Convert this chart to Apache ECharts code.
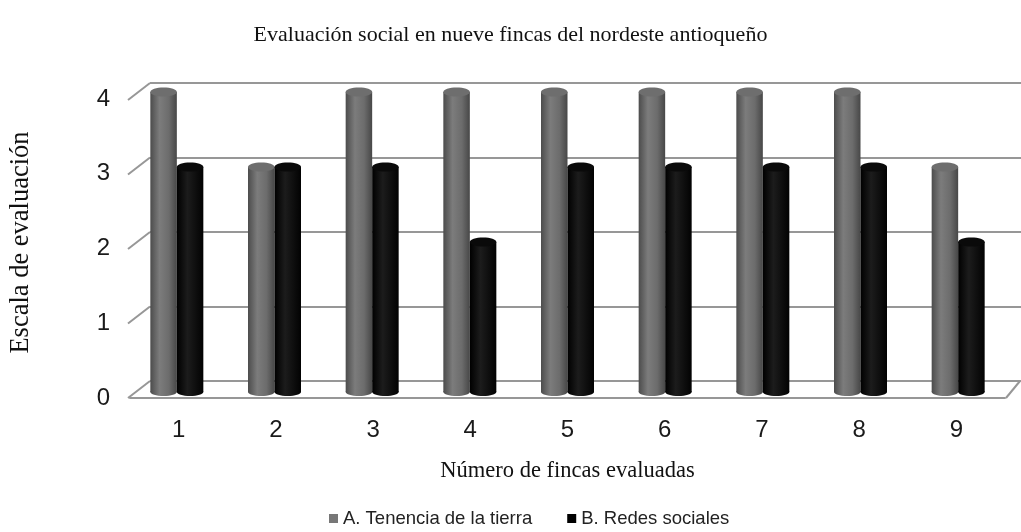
<!DOCTYPE html>
<html>
<head>
<meta charset="utf-8">
<script src="https://cdn.jsdelivr.net/npm/echarts@6/dist/echarts.min.js"></script>
<style>html,body{margin:0;padding:0;background:#fff;}#c{width:1021px;height:532px;}</style>
</head>
<body>
<div id="c"></div>
<script>
var categories = ['1','2','3','4','5','6','7','8','9'];
var tenencia = [4,3,4,4,4,4,4,4,3];
var redes = [3,3,3,2,3,3,3,3,2];
var yTicks = [0,1,2,3,4];
var seriesNames = ['A. Tenencia de la tierra','B. Redes sociales'];

var serif = '"Liberation Serif","DejaVu Serif",serif';
var sans = '"Liberation Sans",Arial,sans-serif';
var gridCol = '#979797';
var BW = 26.5;

var chart = echarts.init(document.getElementById('c'), null, {renderer:'canvas'});

function grayGrad(){
  return new echarts.graphic.LinearGradient(0,0,1,0,[
    {offset:0,color:'#4c4c4c'},{offset:0.35,color:'#7c7c7c'},{offset:0.7,color:'#6c6c6c'},{offset:1,color:'#474747'}]);
}
function blackGrad(){
  return new echarts.graphic.LinearGradient(0,0,1,0,[
    {offset:0,color:'#000'},{offset:0.4,color:'#1c1c1c'},{offset:1,color:'#020202'}]);
}

function capSeries(name, values, side, topColor, grad){
  return {name:name,type:'custom',xAxisIndex:2,yAxisIndex:2,z:4,silent:true,
    data:values.map(function(v,i){return [i,v];}),
    renderItem:function(params,api){
      var top = api.coord([api.value(0),api.value(1)]);
      var base = api.coord([api.value(0),0]);
      var cx = top[0] + side*BW/2;
      return {type:'group',children:[
        {type:'ellipse',shape:{cx:cx,cy:base[1],rx:BW/2,ry:4},style:{fill:grad}},
        {type:'ellipse',shape:{cx:cx,cy:top[1],rx:BW/2,ry:4.5},style:{fill:topColor}}
      ]};
    }};
}

var option = {
  animation:false,
  backgroundColor:'#fff',
  title:{text:'Evaluación social en nueve fincas del nordeste antioqueño',left:'center',top:19,
    textStyle:{fontFamily:serif,fontSize:22,fontWeight:'normal',color:'#111'}},
  legend:{bottom:-1,left:324,itemWidth:9,itemHeight:9,itemGap:35,
    textStyle:{fontFamily:sans,fontSize:18.5,color:'#222'},
    data:[{name:seriesNames[0],icon:'rect',itemStyle:{color:'#777'}},
          {name:seriesNames[1],icon:'rect',itemStyle:{color:'#000'}}]},
  grid:[
    {left:150,right:0,top:83,bottom:151},   // back wall
    {left:126,right:16,top:99,bottom:134},  // front axes
    {left:128,right:14,top:92,bottom:140}   // bars
  ],
  xAxis:[
    {gridIndex:0,type:'value',min:0,max:1,show:false},
    {gridIndex:1,type:'category',data:categories,
      axisLine:{show:true,lineStyle:{color:gridCol,width:2}},axisTick:{show:false},
      axisLabel:{fontFamily:sans,fontSize:24,color:'#1a1a1a',margin:20},
      name:'Número de fincas evaluadas',nameLocation:'middle',nameGap:62,
      nameTextStyle:{fontFamily:serif,fontSize:22.5,color:'#111'}},
    {gridIndex:2,type:'category',data:categories,show:false}
  ],
  yAxis:[
    {gridIndex:0,type:'value',min:0,max:4,interval:1,
      axisLine:{show:false},axisTick:{show:false},axisLabel:{show:false},
      splitLine:{show:true,lineStyle:{color:gridCol,width:2}}},
    {gridIndex:1,type:'value',min:0,max:4,interval:1,
      axisLine:{show:false},axisTick:{show:false},splitLine:{show:false},
      axisLabel:{fontFamily:sans,fontSize:24,color:'#1a1a1a',margin:20},
      name:'Escala de evaluación',nameLocation:'middle',nameGap:95,nameRotate:90,
      nameTextStyle:{fontFamily:serif,fontSize:26.5,color:'#111',padding:[0,0,0,12]}},
    {gridIndex:2,type:'value',min:0,max:4,show:false}
  ],
  series:[
    {type:'custom',xAxisIndex:0,yAxisIndex:0,silent:true,z:1,
      data:yTicks.map(function(v){return [0,v];}),
      renderItem:function(params,api){
        var p = api.coord([0,api.value(1)]);
        return {type:'line',shape:{x1:p[0],y1:p[1],x2:p[0]-22,y2:p[1]+17},
          style:{stroke:gridCol,lineWidth:2}};
      }},
    {type:'custom',xAxisIndex:0,yAxisIndex:0,silent:true,z:1,
      data:[[1,0]],
      renderItem:function(params,api){
        var p = api.coord([1,0]);
        return {type:'line',shape:{x1:p[0]-1,y1:p[1],x2:p[0]-15,y2:p[1]+17},
          style:{stroke:gridCol,lineWidth:2}};
      }},
    {name:seriesNames[0],type:'bar',xAxisIndex:2,yAxisIndex:2,data:tenencia,
      barWidth:BW,barGap:'0%',z:3,itemStyle:{color:grayGrad()}},
    {name:seriesNames[1],type:'bar',xAxisIndex:2,yAxisIndex:2,data:redes,
      barWidth:BW,barGap:'0%',z:3,itemStyle:{color:blackGrad()}},
    capSeries(seriesNames[0], tenencia, -1, '#6e6e6e', grayGrad()),
    capSeries(seriesNames[1], redes, 1, '#0a0a0a', blackGrad())
  ]
};
chart.setOption(option);
</script>
</body>
</html>
